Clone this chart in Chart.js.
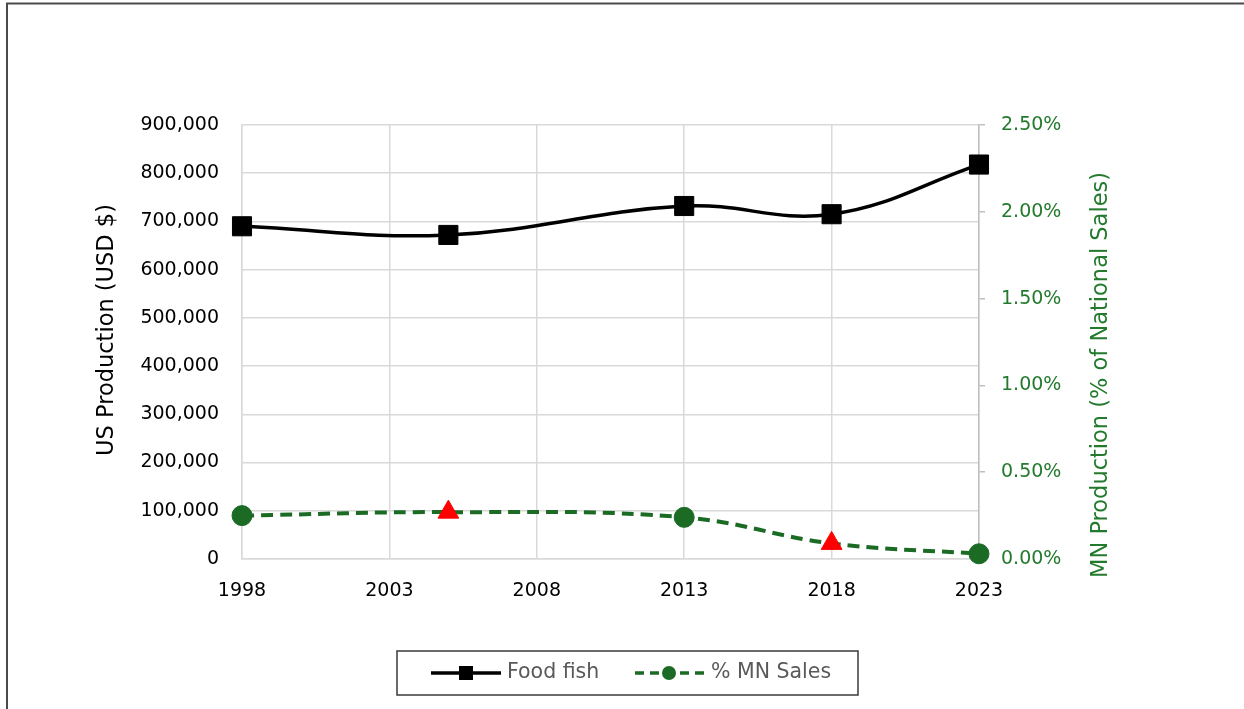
<!DOCTYPE html>
<html>
<head>
<meta charset="utf-8">
<script src="https://cdn.jsdelivr.net/npm/chart.js@4/dist/chart.umd.min.js"></script>
<style>
  html, body { margin: 0; padding: 0; background: #ffffff; }
  #wrap { position: relative; width: 1244px; height: 709px; }
</style>
</head>
<body>
<div id="wrap"><canvas id="c"></canvas></div>
<script>
// Survey years and values
const years = [1998, 2005, 2013, 2018, 2023];
const foodFish = [690000, 672000, 732000, 715000, 818000];      // US production, USD $
const mnSalesPct = [0.25, 0.27, 0.24, 0.09, 0.03];               // MN share of national sales, %
const mnPointStyles = ['circle', 'triangle', 'circle', 'triangle', 'circle'];
const mnPointColors = ['#1b6b25', '#ff0000', '#1b6b25', '#ff0000', '#1b6b25'];
const xTickYears = [1998, 2003, 2008, 2013, 2018, 2023];

const seriesNames = ['Food fish', '% MN Sales'];
const leftTitle = 'US Production (USD $)';
const rightTitle = 'MN Production (% of National Sales)';

const GREEN = '#1b6b25';
const GREEN_TEXT = '#237a2d';
const GRID = '#d9d9d9';
const FONT = "'DejaVu Sans', 'Liberation Sans', Arial, sans-serif";

// Frame, axis titles and a line+marker legend drawn on the canvas
const decorations = {
  id: 'decorations',
  beforeDraw(chart) {
    const ctx = chart.ctx;
    ctx.save();
    ctx.fillStyle = '#ffffff';
    ctx.fillRect(0, 0, chart.width, chart.height);
    ctx.restore();
  },
  afterDraw(chart) {
    const ctx = chart.ctx;
    ctx.save();
    // outer frame
    ctx.strokeStyle = '#4a4a4a';
    ctx.lineWidth = 2;
    ctx.strokeRect(7, 3.5, 1400, 900);

    // axis titles
    ctx.font = '22.5px ' + FONT;
    ctx.textAlign = 'center';
    ctx.textBaseline = 'middle';
    ctx.fillStyle = '#000000';
    ctx.save();
    ctx.translate(107, 330);
    ctx.rotate(-Math.PI / 2);
    ctx.fillText(leftTitle, 0, 0);
    ctx.restore();
    ctx.fillStyle = GREEN_TEXT;
    ctx.save();
    ctx.translate(1101, 375);
    ctx.rotate(-Math.PI / 2);
    ctx.fillText(rightTitle, 0, 0);
    ctx.restore();

    // legend box
    ctx.strokeStyle = '#3a3a3a';
    ctx.lineWidth = 1.5;
    ctx.strokeRect(397, 651, 461, 44);
    const ly = 673;
    // Food fish
    ctx.strokeStyle = '#000000';
    ctx.lineWidth = 3.5;
    ctx.setLineDash([]);
    ctx.beginPath(); ctx.moveTo(431, ly); ctx.lineTo(501, ly); ctx.stroke();
    ctx.fillStyle = '#000000';
    ctx.fillRect(459, ly - 7, 14, 14);
    // % MN Sales
    ctx.strokeStyle = GREEN;
    ctx.lineWidth = 3.5;
    ctx.setLineDash([9, 6]);
    ctx.beginPath(); ctx.moveTo(635, ly); ctx.lineTo(705, ly); ctx.stroke();
    ctx.setLineDash([]);
    ctx.fillStyle = GREEN;
    ctx.beginPath(); ctx.arc(669, ly, 7, 0, Math.PI * 2); ctx.fill();
    // legend text
    ctx.font = '20.5px ' + FONT;
    ctx.fillStyle = '#595959';
    ctx.textAlign = 'left';
    ctx.fillText(seriesNames[0], 507, ly);
    ctx.fillText(seriesNames[1], 711, ly);
    ctx.restore();
  }
};

new Chart(document.getElementById('c'), {
  type: 'line',
  data: {
    datasets: [
      {
        label: seriesNames[0],
        data: years.map((y, i) => ({ x: y, y: foodFish[i] })),
        yAxisID: 'y',
        borderColor: '#000000',
        borderWidth: 3.5,
        tension: 0.4,
        pointStyle: 'rect',
        pointRadius: 13.5,
        pointBackgroundColor: '#000000',
        pointBorderColor: '#000000',
        pointBorderWidth: 1,
        clip: false
      },
      {
        label: seriesNames[1],
        data: years.map((y, i) => ({ x: y, y: mnSalesPct[i] })),
        yAxisID: 'y1',
        borderColor: GREEN,
        borderWidth: 4,
        borderDash: [12, 7],
        tension: 0.4,
        pointStyle: mnPointStyles,
        pointRadius: mnPointStyles.map(s => s === 'triangle' ? 12 : 10),
        pointBackgroundColor: mnPointColors,
        pointBorderColor: mnPointColors,
        pointBorderWidth: 1,
        clip: false
      }
    ]
  },
  options: {
    responsive: true,
    maintainAspectRatio: false,
    animation: false,
    events: [],
    layout: { padding: { top: 125, left: 0, right: 0, bottom: 0 } },
    plugins: {
      legend: { display: false },
      tooltip: { enabled: false }
    },
    scales: {
      x: {
        type: 'linear',
        min: 1998,
        max: 2023,
        afterBuildTicks: s => { s.ticks = xTickYears.map(v => ({ value: v })); },
        afterFit: s => { s.height = 150; },
        grid: { color: GRID, lineWidth: 1.5, drawTicks: false },
        border: { color: GRID, width: 1.5 },
        ticks: {
          padding: 21,
          color: '#000000',
          font: { family: FONT, size: 19 },
          callback: v => String(v),
          maxRotation: 0
        }
      },
      y: {
        position: 'left',
        min: 0,
        max: 900000,
        afterFit: s => { s.width = 242; },
        grid: { color: GRID, lineWidth: 1.5, drawTicks: false },
        border: { color: GRID, width: 1.5 },
        ticks: {
          stepSize: 100000,
          padding: 23,
          color: '#000000',
          font: { family: FONT, size: 19 },
          callback: v => v.toLocaleString('en-US')
        }
      },
      y1: {
        position: 'right',
        min: 0,
        max: 2.5,
        afterFit: s => { s.width = 1244 - 979; },
        grid: { drawOnChartArea: false, drawTicks: true, tickLength: 6, color: '#bfbfbf', lineWidth: 1.5 },
        border: { color: '#bfbfbf', width: 1.5 },
        ticks: {
          stepSize: 0.5,
          padding: 16,
          color: GREEN_TEXT,
          font: { family: FONT, size: 19 },
          callback: v => v.toFixed(2) + '%'
        }
      }
    }
  },
  plugins: [decorations]
});
</script>
</body>
</html>
